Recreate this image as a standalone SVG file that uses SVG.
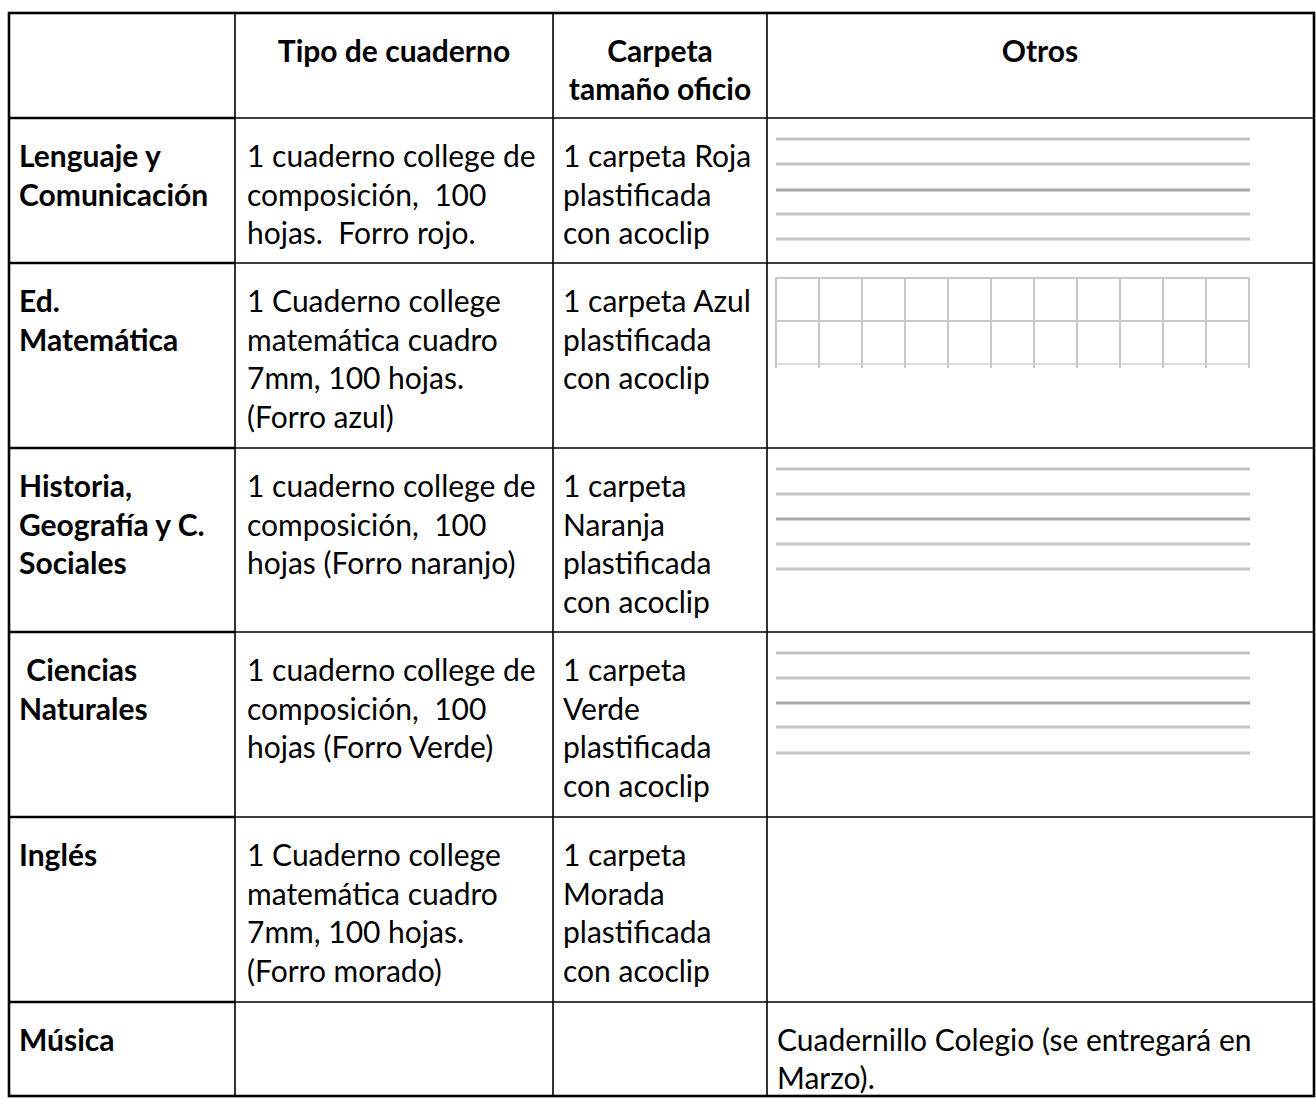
<svg xmlns="http://www.w3.org/2000/svg" width="1316" height="1100" viewBox="0 0 1316 1100">
<style>
text{font-family:Lato,"Liberation Sans",sans-serif;font-size:30px;fill:#000}
.b{font-weight:bold}
.c{text-anchor:middle}
.thin{stroke:#000;stroke-width:1.6;fill:none}
.thick{stroke:#000;stroke-width:2.6;fill:none}
.rule{stroke:#c4c4c4;stroke-width:3}
.rule2{stroke:#a9a9a9;stroke-width:3}
.grid{stroke:#c8c8c8;stroke-width:2}
</style>
<rect width="1316" height="1100" fill="#fff"/>
<g id="connectors">
<line class="thin" x1="235" y1="13" x2="235" y2="1096"/>
<line class="thin" x1="553" y1="13" x2="553" y2="1096"/>
<line class="thin" x1="767" y1="13" x2="767" y2="1096"/>
<line class="thin" x1="9" y1="118" x2="1314" y2="118"/>
<line class="thin" x1="9" y1="263" x2="1314" y2="263"/>
<line class="thin" x1="9" y1="448" x2="1314" y2="448"/>
<line class="thin" x1="9" y1="632" x2="1314" y2="632"/>
<line class="thin" x1="9" y1="817" x2="1314" y2="817"/>
<line class="thin" x1="9" y1="1002" x2="1314" y2="1002"/>
<line class="thick" x1="9" y1="118" x2="235" y2="118"/>
<line class="thick" x1="9" y1="263" x2="235" y2="263"/>
<line class="thick" x1="9" y1="448" x2="235" y2="448"/>
<line class="thick" x1="9" y1="632" x2="235" y2="632"/>
<line class="thick" x1="9" y1="817" x2="235" y2="817"/>
<line class="thick" x1="9" y1="1002" x2="235" y2="1002"/>
<rect class="thick" x="9" y="13" width="1305" height="1083"/>
</g>
<g id="header">
<text class="b c" x="394" y="62">Tipo de cuaderno</text>
<text class="b c" x="660" y="62">Carpeta</text>
<text class="b c" x="660" y="100">tamaño oficio</text>
<text class="b c" x="1040" y="62">Otros</text>
</g>
<g id="row-lenguaje">
<text class="b" x="19" y="167">Lenguaje y</text>
<text class="b" x="19" y="206">Comunicación</text>
<text x="247" y="167">1 cuaderno college de</text>
<text x="247" y="206" xml:space="preserve">composición,  100</text>
<text x="247" y="244" xml:space="preserve">hojas.  Forro rojo.</text>
<text x="563" y="167">1 carpeta Roja</text>
<text x="563" y="206">plastificada</text>
<text x="563" y="244">con acoclip</text>
<line class="rule" x1="776" y1="139" x2="1250" y2="139"/>
<line class="rule" x1="776" y1="164" x2="1250" y2="164"/>
<line class="rule2" x1="776" y1="190" x2="1250" y2="190"/>
<line class="rule" x1="776" y1="214" x2="1250" y2="214"/>
<line class="rule" x1="776" y1="239" x2="1250" y2="239"/>
</g>
<g id="row-matematica">
<text class="b" x="19" y="312">Ed.</text>
<text class="b" x="19" y="351">Matemática</text>
<text x="247" y="312">1 Cuaderno college</text>
<text x="247" y="351">matemática cuadro</text>
<text x="247" y="389">7mm, 100 hojas.</text>
<text x="247" y="428">(Forro azul)</text>
<text x="563" y="312">1 carpeta Azul</text>
<text x="563" y="351">plastificada</text>
<text x="563" y="389">con acoclip</text>
<g class="grid">
<line x1="776" y1="278" x2="1250" y2="278"/>
<line x1="776" y1="321" x2="1250" y2="321"/>
<line x1="776" y1="364" x2="1250" y2="364" stroke="#dcdcdc"/>
<line x1="776" y1="278" x2="776" y2="368"/>
<line x1="819" y1="278" x2="819" y2="368"/>
<line x1="862" y1="278" x2="862" y2="368"/>
<line x1="905" y1="278" x2="905" y2="368"/>
<line x1="948" y1="278" x2="948" y2="368"/>
<line x1="991" y1="278" x2="991" y2="368"/>
<line x1="1034" y1="278" x2="1034" y2="368"/>
<line x1="1077" y1="278" x2="1077" y2="368"/>
<line x1="1120" y1="278" x2="1120" y2="368"/>
<line x1="1163" y1="278" x2="1163" y2="368"/>
<line x1="1206" y1="278" x2="1206" y2="368"/>
<line x1="1249" y1="278" x2="1249" y2="368"/>
</g>
</g>
<g id="row-historia">
<text class="b" x="19" y="497">Historia,</text>
<text class="b" x="19" y="536">Geografía y C.</text>
<text class="b" x="19" y="574">Sociales</text>
<text x="247" y="497">1 cuaderno college de</text>
<text x="247" y="536" xml:space="preserve">composición,  100</text>
<text x="247" y="574">hojas (Forro naranjo)</text>
<text x="563" y="497">1 carpeta</text>
<text x="563" y="536">Naranja</text>
<text x="563" y="574">plastificada</text>
<text x="563" y="613">con acoclip</text>
<line class="rule" x1="776" y1="469" x2="1250" y2="469"/>
<line class="rule" x1="776" y1="494" x2="1250" y2="494"/>
<line class="rule2" x1="776" y1="519" x2="1250" y2="519"/>
<line class="rule" x1="776" y1="544" x2="1250" y2="544"/>
<line class="rule" x1="776" y1="569" x2="1250" y2="569"/>
</g>
<g id="row-ciencias">
<text class="b" x="19" y="681" xml:space="preserve"> Ciencias</text>
<text class="b" x="19" y="720">Naturales</text>
<text x="247" y="681">1 cuaderno college de</text>
<text x="247" y="720" xml:space="preserve">composición,  100</text>
<text x="247" y="758">hojas (Forro Verde)</text>
<text x="563" y="681">1 carpeta</text>
<text x="563" y="720">Verde</text>
<text x="563" y="758">plastificada</text>
<text x="563" y="797">con acoclip</text>
<line class="rule" x1="776" y1="653" x2="1250" y2="653"/>
<line class="rule" x1="776" y1="678" x2="1250" y2="678"/>
<line class="rule2" x1="776" y1="703" x2="1250" y2="703"/>
<line class="rule" x1="776" y1="727" x2="1250" y2="727"/>
<line class="rule" x1="776" y1="753" x2="1250" y2="753"/>
</g>
<g id="row-ingles">
<text class="b" x="19" y="866">Inglés</text>
<text x="247" y="866">1 Cuaderno college</text>
<text x="247" y="905">matemática cuadro</text>
<text x="247" y="943">7mm, 100 hojas.</text>
<text x="247" y="982">(Forro morado)</text>
<text x="563" y="866">1 carpeta</text>
<text x="563" y="905">Morada</text>
<text x="563" y="943">plastificada</text>
<text x="563" y="982">con acoclip</text>
</g>
<g id="row-musica">
<text class="b" x="19" y="1051">Música</text>
<text x="777" y="1051">Cuadernillo Colegio (se entregará en</text>
<text x="777" y="1089">Marzo).</text>
</g>
</svg>
